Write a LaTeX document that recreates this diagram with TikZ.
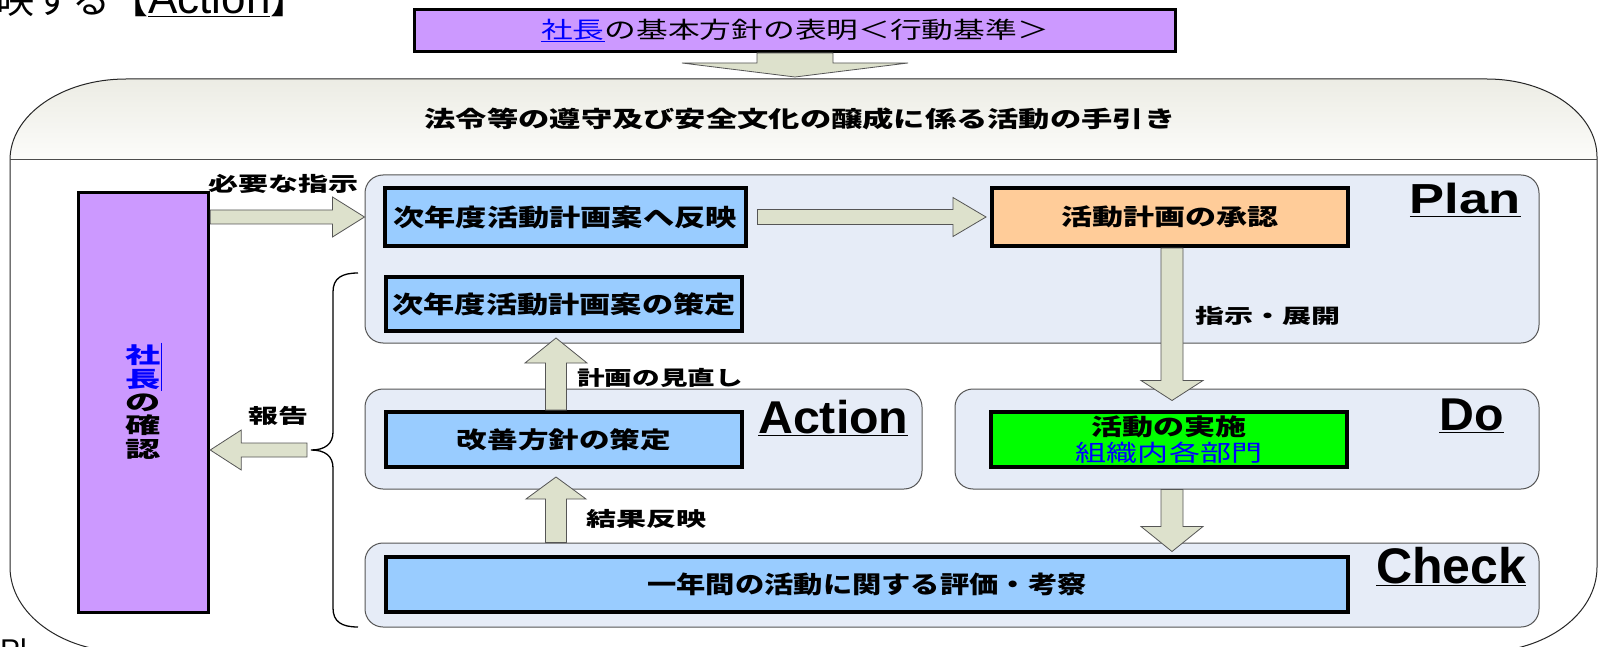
\documentclass[tikz,border=0pt]{standalone}
\usepackage{fontspec}
\usepackage{graphicx}
\setmainfont{Liberation Sans}
\newfontfamily\jp{Noto Sans CJK JP}
\usetikzlibrary{calc}
\definecolor{purp}{RGB}{204,153,255}
\definecolor{lblue}{RGB}{153,204,255}
\definecolor{orng}{RGB}{255,204,153}
\definecolor{grn}{RGB}{0,255,0}
\definecolor{cont}{RGB}{230,236,247}
\definecolor{arrf}{RGB}{221,225,204}
\definecolor{arrd}{RGB}{85,85,85}
\definecolor{lnk}{RGB}{0,0,255}
\definecolor{hdrtop}{RGB}{236,236,228}
\definecolor{hdrbot}{RGB}{252,252,250}
\newcommand\sx[2]{\scalebox{#1}[1]{#2}}
\newcommand\jf[1]{\fontsize{#1}{#1}\selectfont\jp\bfseries}
\newcommand\jr[1]{\fontsize{#1}{#1}\selectfont\jp}
\newcommand\barrow[5]{%
  \coordinate (ba-h) at ($(#2)!#5!(#1)$);
  \draw[blockarrow] ($(#1)!#3!90:(#2)$) -- ($(ba-h)!#3!-90:(#1)$) -- ($(ba-h)!#4!-90:(#1)$) -- (#2) -- ($(ba-h)!#4!90:(#1)$) -- ($(ba-h)!#3!90:(#1)$) -- ($(#1)!#3!-90:(#2)$) -- cycle;}
\tikzset{
  box/.style={draw=black, line width=4pt, inner sep=0pt, fill=lblue, text=black},
  contbox/.style={draw=arrd, line width=1pt, fill=cont, rounded corners=18pt, inner sep=0pt},
  blockarrow/.style={draw=arrd, line width=0.8pt, fill=arrf, line join=miter},
  lbl/.style={inner sep=0pt, text=black},
  pdca/.style={inner sep=0pt, text=black, anchor=base west},
}
\begin{document}
\begin{tikzpicture}[x=1pt,y=-1pt]
\useasboundingbox (0,0) rectangle (1598,647);
\fill[white] (0,0) rectangle (1598,647);
% fragments of surrounding text
\node[lbl, anchor=base west] (frag1) at (-4,14) {\jr{38}映する【\fontsize{44}{44}\selectfont\rmfamily\underline{Action}\jr{38}】};
\node[lbl, anchor=north west] (frag2) at (0,639) {\fontsize{30}{30}\selectfont Pl};
% outer container
\fill[white] (10,567) -- (10,160) .. controls (10,115) and (62,79) .. (126,79) -- (1487,79) .. controls (1548,79) and (1597,114) .. (1597,157) -- (1597,567) .. controls (1597,614) and (1546,652) .. (1482,652) -- (126,652) .. controls (62,652) and (10,614) .. (10,567) -- cycle;
\begin{scope}
\clip (10,567) -- (10,160) .. controls (10,115) and (62,79) .. (126,79) -- (1487,79) .. controls (1548,79) and (1597,114) .. (1597,157) -- (1597,567) .. controls (1597,614) and (1546,652) .. (1482,652) -- (126,652) .. controls (62,652) and (10,614) .. (10,567) -- cycle;
\shade[top color=hdrtop, bottom color=hdrbot] (0,79) rectangle (1598,160);
\end{scope}
\draw[line width=1pt, black!85] (10,567) -- (10,160) .. controls (10,115) and (62,79) .. (126,79) -- (1487,79) .. controls (1548,79) and (1597,114) .. (1597,157) -- (1597,567) .. controls (1597,614) and (1546,652) .. (1482,652) -- (126,652) .. controls (62,652) and (10,614) .. (10,567) -- cycle;
\draw[line width=1pt, black!70] (10,160) -- (1597,160);
\node[lbl] (hdr) at (800,119) {\sx{1.39}{\jf{22.5}法令等の遵守及び安全文化の醸成に係る活動の手引き}};
% top box
\node[box, fill=purp, line width=3pt, minimum width=761pt, minimum height=42pt] (top) at (795,30.5) {\sx{1.38}{\jr{23}\textcolor{lnk}{\underline{社長}}の基本方針の表明＜行動基準＞}};
% containers
\node[contbox, minimum width=1174pt, minimum height=168pt] (planc) at (952,259) {};
\node[contbox, minimum width=557pt, minimum height=100pt] (actc) at (643.5,439) {};
\node[contbox, minimum width=584pt, minimum height=100pt] (doc) at (1247,439) {};
\node[contbox, minimum width=1174pt, minimum height=84pt] (chkc) at (952,585) {};
% president box
\node[box, fill=purp, line width=3.5pt, minimum width=130pt, minimum height=420pt] (pres) at (143.5,402.5) {};
\node[lbl, align=center, font=\fontsize{22}{23.4}\selectfont\jp\bfseries] (prestxt) at (143.5,402) {\sx{1.6}{\textcolor{lnk}{社}}\\\sx{1.6}{\textcolor{lnk}{長}}\\\sx{1.6}{の}\\\sx{1.6}{確}\\\sx{1.6}{認}};
\draw[lnk, line width=1.5pt] ($(pres.center)+(18,-60)$) -- ($(pres.center)+(18,-12)$);
% boxes
\node[box, minimum width=361pt, minimum height=58pt] (p1) at (565,217) {\sx{1.3}{\jf{24}次年度活動計画案へ反映}};
\node[box, minimum width=356pt, minimum height=54pt] (p2) at (564,304) {\sx{1.3}{\jf{24}次年度活動計画案の策定}};
\node[box, fill=orng, minimum width=356pt, minimum height=58pt] (appr) at (1170,217) {\sx{1.35}{\jf{23}活動計画の承認}};
\node[box, minimum width=356pt, minimum height=55pt] (imp) at (564,439.5) {\sx{1.33}{\jf{23}改善方針の策定}};
\node[box, fill=grn, minimum width=356pt, minimum height=55pt] (do) at (1169,439.5) {};
\node[lbl] (dot1) at ($(do.center)+(0,-13)$) {\sx{1.35}{\jf{23}活動の実施}};
\node[lbl] (dot2) at ($(do.center)+(0,13)$) {\sx{1.35}{\jr{23}\color{lnk}組織内各部門}};
\node[box, minimum width=962pt, minimum height=55pt] (chk) at (867,584.5) {\sx{1.22}{\jf{24}一年間の活動に関する評価・考察}};
% arrows
\coordinate (ta1) at (top.south);
\coordinate (ta2) at ($(top.south)+(0,24)$);
\barrow{ta1}{ta2}{38pt}{113pt}{14pt}
\coordinate (a1s) at (pres.east |- p1.center);
\coordinate (a1e) at (planc.west |- p1.center);
\barrow{a1s}{a1e}{7pt}{20pt}{32pt}
\coordinate (a2s) at ($(p1.east)+(10,0)$);
\coordinate (a2e) at ($(appr.west)+(-4,0)$);
\barrow{a2s}{a2e}{7.5pt}{19.5pt}{33pt}
\coordinate (a3x) at (appr.south |- doc.north);
\coordinate (a3s) at ($(appr.south)+(2,0)$);
\coordinate (a3e) at ($(a3x)+(2,12)$);
\barrow{a3s}{a3e}{11pt}{31pt}{20pt}
\coordinate (a4x) at (appr.south |- doc.south);
\coordinate (a4y) at (appr.south |- chkc.north);
\coordinate (a4s) at ($(a4x)+(2,0)$);
\coordinate (a4e) at ($(a4y)+(2,9)$);
\barrow{a4s}{a4e}{11pt}{31pt}{25pt}
\coordinate (a5s) at ($(imp.north)+(-8,0)$);
\coordinate (a5e) at ($(p2.south)+(-8,5)$);
\barrow{a5s}{a5e}{10.5pt}{31pt}{25pt}
\coordinate (a6x) at ($(imp.south)+(-8,0)$);
\coordinate (a6s) at (a6x |- chkc.north);
\coordinate (a6e) at ($(imp.south)+(-8,8)$);
\barrow{a6s}{a6e}{10.5pt}{30pt}{22pt}
% brace
\coordinate (bm) at (311,450);
\draw[line width=1.3pt] (358,273) .. controls (342,273) and (333,278) .. (333,292) -- (333,432) .. controls (333,444) and (325,450) .. (bm) .. controls (325,450) and (333,456) .. (333,468) -- (333,608) .. controls (333,622) and (342,627) .. (358,627);
\coordinate (a7s) at ($(bm)+(-4,0)$);
\coordinate (a7e) at (pres.east |- bm);
\barrow{a7s}{a7e}{7pt}{20pt}{31pt}
% labels
\node[lbl] (l1) at (283,184) {\sx{1.5}{\jf{20}必要な指示}};
\node[lbl] (l2) at (278,416) {\sx{1.5}{\jf{20}報告}};
\node[lbl] (l3) at (660,378) {\sx{1.38}{\jf{20}計画の見直し}};
\node[lbl] (l4) at (646,519) {\sx{1.5}{\jf{20}結果反映}};
\node[lbl] (l5) at (1268,316) {\sx{1.45}{\jf{20}指示・展開}};
% PDCA labels
\node[lbl, anchor=base east] (plan) at (1521,214) {\sx{1.25}{\fontsize{42}{42}\selectfont\bfseries\underline{Plan}}};
\node[pdca] (act) at (758,433) {\sx{1.05}{\fontsize{46}{46}\selectfont\bfseries\underline{Action}}};
\node[pdca] (dolbl) at (1439,430) {\sx{1.05}{\fontsize{46}{46}\selectfont\bfseries\underline{Do}}};
\node[pdca] (check) at (1376,583) {\fontsize{50}{50}\selectfont\bfseries\underline{Check}};
\end{tikzpicture}
\end{document}
